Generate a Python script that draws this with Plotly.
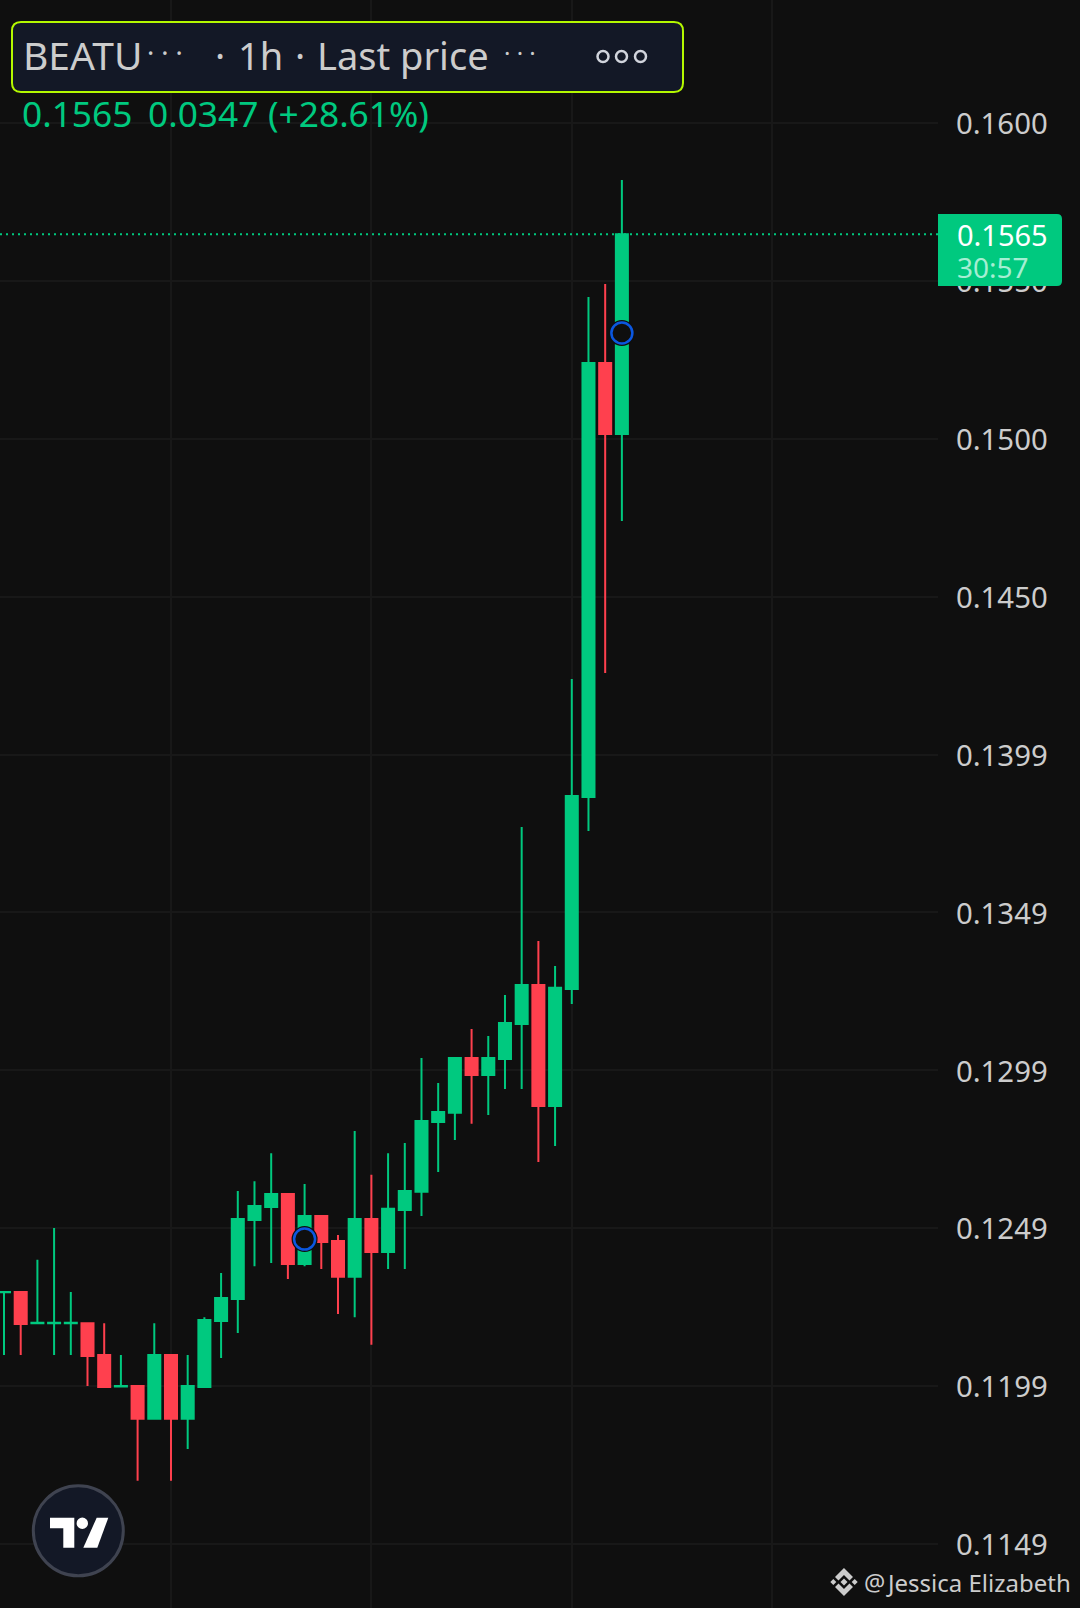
#!/usr/bin/env python3

import plotly.graph_objects as go

W, H = 1080, 1608

# hourly bars, 0 is the leftmost one
bars = list(range(38))

opens = [0.12286, 0.12287, 0.12188, 0.12188, 0.12188, 0.12188, 0.12087, 0.11987, 0.11988, 0.11884,
         0.12087, 0.11884, 0.11985, 0.12195, 0.12265, 0.12516, 0.12557, 0.12598, 0.12376, 0.12528,
         0.12449, 0.12335, 0.12519, 0.12414, 0.12547, 0.12605, 0.12827, 0.12856, 0.13030, 0.12976,
         0.13027, 0.13138, 0.13262, 0.12878, 0.13249, 0.13859, 0.15238, 0.15012]
highs = [0.12287, 0.12287, 0.12389, 0.12490, 0.12287, 0.12188, 0.12188, 0.12087, 0.11988, 0.12188,
         0.12087, 0.12087, 0.12207, 0.12347, 0.12608, 0.12639, 0.12728, 0.12598, 0.12630, 0.12528,
         0.12468, 0.12798, 0.12659, 0.12728, 0.12760, 0.13030, 0.12951, 0.13030, 0.13122, 0.13100,
         0.13230, 0.13764, 0.13402, 0.13322, 0.14234, 0.15447, 0.15489, 0.15819]
lows = [0.12087, 0.12087, 0.12188, 0.12087, 0.12087, 0.11988, 0.11985, 0.11987, 0.11687, 0.11884,
        0.11687, 0.11788, 0.11985, 0.12077, 0.12157, 0.12369, 0.12379, 0.12328, 0.12369, 0.12360,
        0.12217, 0.12207, 0.12119, 0.12360, 0.12360, 0.12528, 0.12668, 0.12770, 0.12821, 0.12849,
        0.12932, 0.12932, 0.12700, 0.12751, 0.13202, 0.13751, 0.14253, 0.14736]
closes = [0.12287, 0.12185, 0.12189, 0.12189, 0.12189, 0.12084, 0.11985, 0.11988, 0.11884, 0.12087,
          0.11884, 0.11988, 0.12198, 0.12268, 0.12519, 0.12560, 0.12598, 0.12376, 0.12528, 0.12446,
          0.12335, 0.12519, 0.12414, 0.12551, 0.12608, 0.12830, 0.12859, 0.13030, 0.12976, 0.13030,
          0.13141, 0.13262, 0.12878, 0.13253, 0.13862, 0.15238, 0.15012, 0.15647]

# the two blue rings sitting on candles
signal_bars = [18, 37]
signal_prices = [0.12455, 0.15333]

last_price = 0.15647

price_ticks = [0.16, 0.154985, 0.14997, 0.144955, 0.13994, 0.134925, 0.12991, 0.124895, 0.11988, 0.114865]
price_labels = ['0.1600', '0.1550', '0.1500', '0.1450', '0.1399', '0.1349', '0.1299', '0.1249', '0.1199', '0.1149']
time_ticks = [10, 22, 34, 46]

BG = '#0f0f0f'
GREEN = '#00c97f'
RED = '#ff404e'
GRID = '#181818'
TEXT = '#cccccc'
FONT = 'Noto Sans'


def px(x):
    return x / W


def py(y):
    return 1 - y / H


def poly(points, color):
    d = 'M' + ' L'.join(f'{px(x):.5f},{py(y):.5f}' for x, y in points) + ' Z'
    return dict(type='path', xref='paper', yref='paper', path=d, fillcolor=color, line_width=0, layer='above')


def circle(cx, cy, r, fill, line, width):
    return dict(type='circle', xref='paper', yref='paper', x0=px(cx - r), x1=px(cx + r),
                y0=py(cy + r), y1=py(cy - r), fillcolor=fill,
                line=dict(color=line, width=width), layer='above')


def rounded(x0, y0, x1, y1, r, fill, line=None, width=0, left=True):
    lr = r if left else 0
    d = (f'M{px(x0 + lr):.5f},{py(y0):.5f} L{px(x1 - r):.5f},{py(y0):.5f} '
         f'Q{px(x1):.5f},{py(y0):.5f} {px(x1):.5f},{py(y0 + r):.5f} '
         f'L{px(x1):.5f},{py(y1 - r):.5f} Q{px(x1):.5f},{py(y1):.5f} {px(x1 - r):.5f},{py(y1):.5f} '
         f'L{px(x0 + lr):.5f},{py(y1):.5f} Q{px(x0):.5f},{py(y1):.5f} {px(x0):.5f},{py(y1 - lr):.5f} '
         f'L{px(x0):.5f},{py(y0 + lr):.5f} Q{px(x0):.5f},{py(y0):.5f} {px(x0 + lr):.5f},{py(y0):.5f} Z')
    return dict(type='path', xref='paper', yref='paper', path=d, fillcolor=fill,
                line=dict(color=line or fill, width=width), layer='above')


def label(x, y, text, size, color, anchor='left'):
    return dict(x=px(x), y=py(y), xref='paper', yref='paper', text=text, showarrow=False,
                xanchor=anchor, yanchor='middle', borderpad=0,
                font=dict(family=FONT, size=size, color=color))


fig = go.Figure()

fig.add_trace(go.Candlestick(
    x=bars, open=opens, high=highs, low=lows, close=closes,
    whiskerwidth=0,
    increasing=dict(line=dict(color=GREEN, width=2), fillcolor=GREEN),
    decreasing=dict(line=dict(color=RED, width=2), fillcolor=RED),
    showlegend=False,
))

# dark halo first, the ring on top of it
fig.add_trace(go.Scatter(x=signal_bars, y=signal_prices, mode='markers', showlegend=False,
                         marker=dict(size=26, color=BG, line_width=0)))
fig.add_trace(go.Scatter(x=signal_bars, y=signal_prices, mode='markers', showlegend=False,
                         marker=dict(size=21, color=BG, line=dict(color='#0b57e0', width=2.5))))

shapes = [
    # last price line
    dict(type='line', xref='x domain', yref='y', x0=0, x1=1, y0=last_price, y1=last_price,
         line=dict(color=GREEN, width=2, dash='2px,4px')),
    # price badge
    rounded(938, 214, 1062, 286, 5, GREEN, left=False),
    # header pill
    rounded(12, 22, 683, 92, 9, '#131826', line='#b4f800', width=2),
    circle(603, 56.5, 5.5, 'rgba(0,0,0,0)', '#d1d4dc', 2.5),
    circle(621.5, 56.5, 5.5, 'rgba(0,0,0,0)', '#d1d4dc', 2.5),
    circle(640.5, 56.5, 5.5, 'rgba(0,0,0,0)', '#d1d4dc', 2.5),
    # tradingview logo
    circle(78.3, 1530.8, 45, '#131826', '#3f4350', 3),
    poly([(50, 1517.7), (74.3, 1517.7), (74.3, 1547.7), (63.3, 1547.7), (63.3, 1528.3), (50, 1528.3)], 'white'),
    circle(82.3, 1523.3, 5.7, 'white', 'white', 0),
    poly([(96.7, 1517.7), (108.3, 1517.7), (97.3, 1547.7), (83.3, 1547.7)], 'white'),
    # binance logo
    poly([(844, 1568), (853, 1577), (849.5, 1580.5), (844, 1575), (838.5, 1580.5), (835, 1577)], TEXT),
    poly([(844, 1596), (853, 1587), (849.5, 1583.5), (844, 1589), (838.5, 1583.5), (835, 1587)], TEXT),
    poly([(844, 1578.5), (847.5, 1582), (844, 1585.5), (840.5, 1582)], TEXT),
    poly([(833.3, 1579), (836.3, 1582), (833.3, 1585), (830.3, 1582)], TEXT),
    poly([(854.7, 1579), (857.7, 1582), (854.7, 1585), (851.7, 1582)], TEXT),
]

annotations = [
    label(22, 55, 'BEATU', 39, TEXT),
    label(146, 52, '· · ·', 27, TEXT),
    label(214, 55, '·', 38, TEXT),
    label(237, 55, '1h', 38, TEXT),
    label(294, 55, '·', 38, TEXT),
    label(316, 55, 'Last price', 38, TEXT),
    label(503, 52, '· · ·', 24, TEXT),
    label(21, 113, '0.1565', 35.3, GREEN),
    label(147, 113, '0.0347', 35.3, GREEN),
    label(267, 113, '(+28.61%)', 35.3, GREEN),
    label(956, 235, '0.1565', 29, 'white'),
    label(956, 267, '30:57', 28, '#a5eed3'),
    label(863, 1582, '@', 23.7, TEXT),
    label(885, 1582, 'Jessica Elizabeth', 24, TEXT),
]

fig.update_layout(
    width=W, height=H,
    margin=dict(l=0, r=0, t=0, b=0),
    paper_bgcolor=BG,
    plot_bgcolor=BG,
    boxgap=0.28,
    boxgroupgap=0,
    hovermode=False,
    showlegend=False,
    shapes=shapes,
    annotations=annotations,
)

fig.update_xaxes(
    domain=[0, 938 / W],
    range=[-0.2395, 55.93],
    rangeslider_visible=False,
    tickmode='array', tickvals=time_ticks,
    showticklabels=False, ticks='',
    showgrid=True, gridcolor=GRID, gridwidth=2,
    zeroline=False, showline=False,
)
fig.update_yaxes(
    side='right',
    range=[0.112832, 0.163907],
    tickmode='array', tickvals=price_ticks, ticktext=price_labels,
    ticks='', ticklabelstandoff=17, ticklabelshift=1,
    tickfont=dict(family=FONT, size=29.3, color=TEXT),
    showgrid=True, gridcolor=GRID, gridwidth=2,
    zeroline=False, showline=False,
)

# page margin would otherwise shift everything by 8px
fig.write_html(
    "out.html",
    config={'displayModeBar': False},
    post_script="document.body.style.margin='0';document.body.style.background='#0f0f0f';document.documentElement.style.overflow='hidden';",
)
